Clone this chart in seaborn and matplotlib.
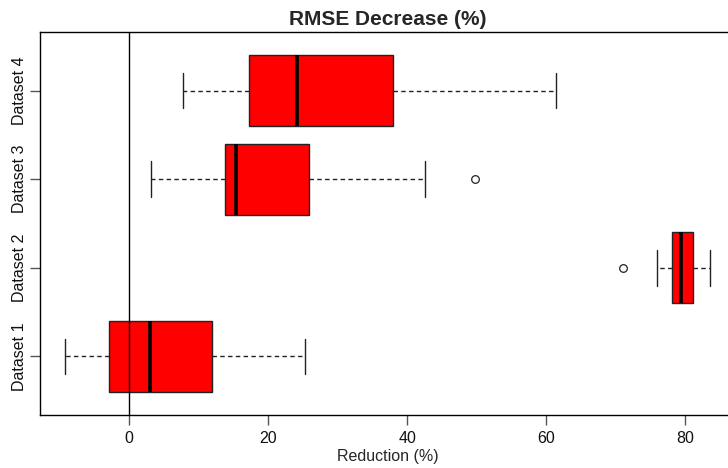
import matplotlib
matplotlib.use("Agg")
import matplotlib.pyplot as plt
import seaborn as sns
import pandas as pd

# ---- values ----
datasets = ["Dataset 1", "Dataset 2", "Dataset 3", "Dataset 4"]
whisker_low = [-9.2, 75.9, 3.2, 7.8]
q1 = [-2.9, 78.1, 13.8, 17.3]
median = [3.0, 79.4, 15.4, 24.2]
q3 = [11.9, 81.1, 25.9, 37.9]
whisker_high = [25.3, 83.6, 42.6, 61.4]
outlier_low = [None, 71.0, None, None]
outlier_high = [None, None, 49.7, None]
x_ticks = [0, 20, 40, 60, 80]

# table for seaborn: 9 points per group reproduce the five-number summary
rows = []
for i, name in enumerate(datasets):
    pts = [whisker_low[i], whisker_low[i], q1[i], median[i], median[i],
           median[i], q3[i], whisker_high[i], whisker_high[i]]
    if outlier_low[i] is not None:
        pts[0] = outlier_low[i]
    if outlier_high[i] is not None:
        pts[-1] = outlier_high[i]
    for v in pts:
        rows.append({"Dataset": name, "Reduction": v})
df = pd.DataFrame(rows)

sns.set_style("white")
plt.rcParams["font.family"] = ["Liberation Sans", "DejaVu Sans"]

fig = plt.figure(figsize=(7.28, 4.68), dpi=100)
ax = fig.add_axes([40 / 728, (468 - 415) / 468, (736 - 40) / 728, (415 - 32) / 468])

sns.boxplot(
    data=df, x="Reduction", y="Dataset", order=datasets, orient="h",
    color="red", saturation=1, width=0.8, linecolor="#222222", linewidth=1,
    whis=1.5, fliersize=5.5, ax=ax,
    medianprops={"color": "black", "linewidth": 2.6},
    whiskerprops={"linestyle": (0, (3.2, 2.4)), "color": "#222222"},
    capprops={"color": "#222222"},
    flierprops={"marker": "o", "markerfacecolor": "none",
                "markeredgecolor": "#222222", "markeredgewidth": 0.9},
)

ax.axvline(0, color="black", linewidth=1, zorder=5)

ax.set_xlim(-12.8, 87.3)
ax.set_ylim(-0.66, 3.66)
ax.set_xticks(x_ticks)
ax.set_xticklabels([str(t) for t in x_ticks], fontsize=11.5, color="#111111")
ax.set_yticks(range(len(datasets)))
ax.set_yticklabels(datasets, fontsize=11.5, rotation=90, va="center", color="#111111")
ax.tick_params(axis="both", length=7.5, width=1, color="#555555", direction="out",
               bottom=True, left=True, top=False, right=False)
ax.tick_params(axis="x", pad=4)
ax.tick_params(axis="y", pad=2)
ax.set_xlabel("Reduction (%)", fontsize=11.5, labelpad=2)
ax.set_ylabel("")
ax.set_title("RMSE Decrease (%)", fontsize=15, fontweight="bold", pad=5)
for s in ax.spines.values():
    s.set_color("black")
    s.set_linewidth(1)
    s.set_visible(True)

fig.savefig("out.png", dpi=100)
